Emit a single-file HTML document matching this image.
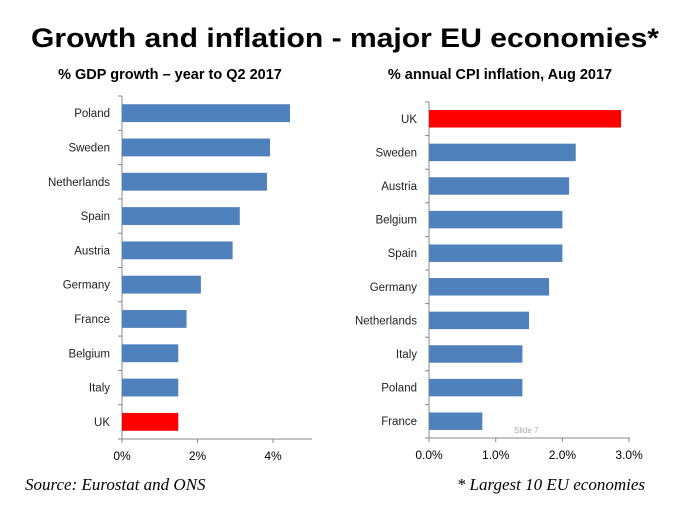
<!DOCTYPE html>
<html><head><meta charset="utf-8"><style>
body{margin:0;background:#fff;width:686px;height:515px;overflow:hidden;font-family:"Liberation Sans",sans-serif}
</style></head><body>
<svg id="s" width="686" height="515">
<text x="345" y="47" text-anchor="middle" font-size="27" font-weight="bold" fill="#000" textLength="628" lengthAdjust="spacingAndGlyphs">Growth and inflation - major EU economies*</text>
<text x="170" y="79" text-anchor="middle" font-size="14.5" font-weight="bold">% GDP growth – year to Q2 2017</text>
<text x="500" y="79" text-anchor="middle" font-size="14.5" font-weight="bold">% annual CPI inflation, Aug 2017</text>
<text x="25" y="490" font-family="Liberation Serif,serif" font-style="italic" font-size="17">Source: Eurostat and ONS</text>
<text x="645" y="490" text-anchor="end" font-family="Liberation Serif,serif" font-style="italic" font-size="17">* Largest 10 EU economies</text>
<text x="514" y="433" font-size="8" fill="#aaa">Slide 7</text>
</svg>
<script>
const gdpCats=["Poland","Sweden","Netherlands","Spain","Austria","Germany","France","Belgium","Italy","UK"];
const gdpVals=[4.45,3.92,3.84,3.12,2.93,2.09,1.71,1.49,1.49,1.49];
const gdpTicks=["0%","2%","4%"];
const cpiCats=["UK","Sweden","Austria","Belgium","Spain","Germany","Netherlands","Italy","Poland","France"];
const cpiVals=[2.88,2.2,2.1,2.0,2.0,1.8,1.5,1.4,1.4,0.8];
const cpiTicks=["0.0%","1.0%","2.0%","3.0%"];
const NS="http://www.w3.org/2000/svg",svg=document.getElementById('s');
function mk(t,a){const e=document.createElementNS(NS,t);for(const k in a)e.setAttribute(k,a[k]);svg.appendChild(e);return e;}
function chart(o){
  const x=v=>o.x0+v*o.scale;
  const n=o.cats.length,step=(o.y1-o.y0)/n;
  const ax=mk('line',{x1:o.x0,x2:o.x0,y1:o.y0,y2:o.y1,stroke:'#888'});
  
  const bx=mk('line',{x1:o.x0,x2:o.xEnd,y1:o.y1,y2:o.y1,stroke:'#888'});
  
  for(let i=0;i<=n;i++){const t=mk('line',{x1:o.x0-4,x2:o.x0,y1:o.y0+i*step,y2:o.y0+i*step,stroke:'#888'});
    }
  o.ticks.forEach((l,i)=>{const v=i*o.tickStep;
    const t=mk('line',{x1:x(v),x2:x(v),y1:o.y1,y2:o.y1+4,stroke:'#888'});
    
    const tx=mk('text',{x:x(v),y:o.y1+21,'text-anchor':'middle','font-size':12});tx.textContent=l;
    });
  o.cats.forEach((c,i)=>{const yc=o.y0+(i+0.5)*step;
    const r=mk('rect',{x:o.x0,y:yc-step*0.26,width:x(o.vals[i])-o.x0,height:step*0.52,fill:c==='UK'?'#fe0000':'#4f81bd'});
    
    const t=mk('text',{x:o.x0-12,y:yc+4,'text-anchor':'end','font-size':11.5,fill:'#222'});t.textContent=c;
    });
}
chart({p:'gdp',cats:gdpCats,vals:gdpVals,ticks:gdpTicks,tickStep:2,x0:122,scale:37.75,y0:96,y1:439,xEnd:312});
chart({p:'cpi',cats:cpiCats,vals:cpiVals,ticks:cpiTicks,tickStep:1,x0:429,scale:66.7,y0:102,y1:438,xEnd:630});
</script>
</body></html>
